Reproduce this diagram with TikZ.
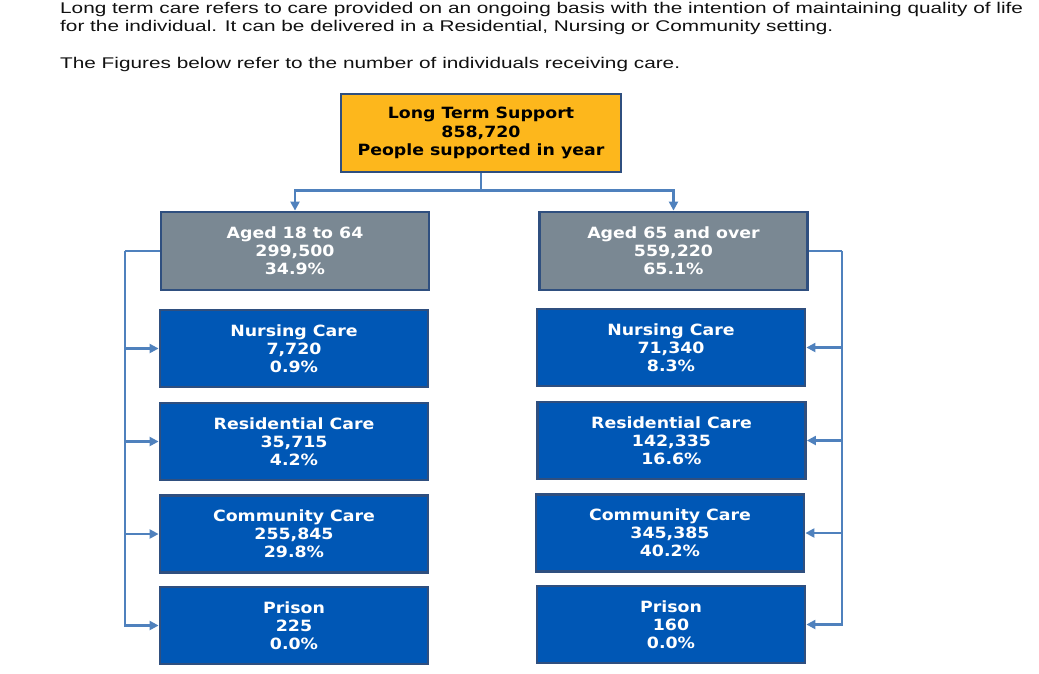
\documentclass[tikz,border=0pt]{standalone}
\usepackage{fontspec}
\setmainfont[FakeStretch=1.34]{Liberation Sans}
\newfontfamily\cardfont[FakeStretch=1.12]{DejaVu Sans}
\usetikzlibrary{arrows.meta}

\definecolor{amber}{HTML}{FDB71C}
\definecolor{slate}{HTML}{7A8893}
\definecolor{royal}{HTML}{0057B5}
\definecolor{cardedge}{HTML}{2F4F7F}
\definecolor{linkblue}{HTML}{4F81BD}
\definecolor{bodytext}{HTML}{111111}

\tikzset{
  card/.style={draw=cardedge, line width=2.8pt, align=center, inner sep=0pt,
    font=\cardfont\bfseries\fontsize{15.5}{18.2}\selectfont},
  total/.style={card, fill=amber, text=black, minimum width=280pt, minimum height=78pt},
  agegroup/.style={card, fill=slate, text=white, minimum width=268pt, minimum height=78pt},
  setting/.style={card, fill=royal, text=white, minimum width=268pt, minimum height=77pt},
  link/.style={draw=linkblue, line width=2.2pt},
  arrowlink/.style={link, -{Triangle[length=9pt,width=9pt]}},
  para/.style={anchor=base west, inner sep=0pt, text=bodytext,
    font=\fontsize{15.5}{18}\selectfont}
}

\begin{document}
\begin{tikzpicture}[x=1pt,y=-1pt]
  \useasboundingbox (0,0) rectangle (1039,673);

  % introductory text
  \node[para] (intro1) at (60,13) {Long term care refers to care provided on an ongoing basis with the intention of maintaining quality of life};
  \node[para] (intro2) at (60,31) {for the individual. It can be delivered in a Residential, Nursing or Community setting.};
  \node[para] (intro3) at (60,68) {The Figures below refer to the number of individuals receiving care.};

  % total
  \node[total] (top) at (481,133) {Long Term Support\\858,720\\People supported in year};

  % age groups
  \node[agegroup] (young) at (295,251) {Aged 18 to 64\\299,500\\34.9\%};
  \node[agegroup] (old) at (673.5,251) {Aged 65 and over\\559,220\\65.1\%};

  % settings, 18 to 64
  \node[setting] (ynurs) at (294,348.5) {Nursing Care\\7,720\\0.9\%};
  \node[setting] (yres)  at (294,441.5) {Residential Care\\35,715\\4.2\%};
  \node[setting] (ycomm) at (294,534)   {Community Care\\255,845\\29.8\%};
  \node[setting] (ypris) at (294,625.5) {Prison\\225\\0.0\%};

  % settings, 65 and over
  \node[setting] (onurs) at (671,347.5) {Nursing Care\\71,340\\8.3\%};
  \node[setting] (ores)  at (671.5,440.5) {Residential Care\\142,335\\16.6\%};
  \node[setting] (ocomm) at (670,533)   {Community Care\\345,385\\40.2\%};
  \node[setting] (opris) at (671,624.5) {Prison\\160\\0.0\%};

  % split from the total to the two age groups
  \draw[link] (top.south) -- ++(0,17) coordinate (split);
  \draw[arrowlink] (split) -| (young.north);
  \draw[arrowlink] (split) -| (old.north);

  % left rail
  \draw[link] (young.west) -- ++(-35,0) coordinate (lrail);
  \draw[arrowlink] (lrail) |- (ypris.west);
  \draw[arrowlink] (lrail |- ynurs.west) -- (ynurs.west);
  \draw[arrowlink] (lrail |- yres.west) -- (yres.west);
  \draw[arrowlink] (lrail |- ycomm.west) -- (ycomm.west);

  % right rail
  \draw[link] (old.east) -- ++(33,0) coordinate (rrail);
  \draw[arrowlink] (rrail) |- (opris.east);
  \draw[arrowlink] (rrail |- onurs.east) -- (onurs.east);
  \draw[arrowlink] (rrail |- ores.east) -- (ores.east);
  \draw[arrowlink] (rrail |- ocomm.east) -- (ocomm.east);
\end{tikzpicture}
\end{document}
